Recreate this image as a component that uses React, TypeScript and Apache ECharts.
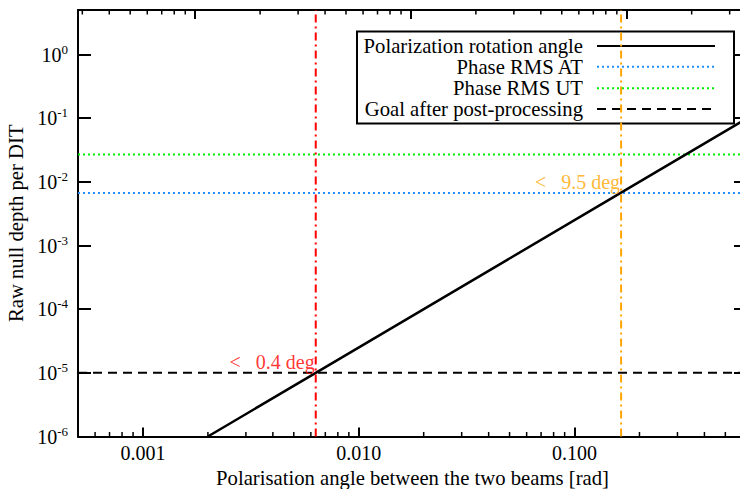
import React, { useEffect, useRef } from "react";
import * as echarts from "echarts";

// Axis ranges
const X_MIN = 0.0005; // rad
const X_MAX = 0.63; // rad
const Y_MIN = 1e-6;
const Y_MAX = 5;
const RAD2DEG = 180 / Math.PI;

// Polarization rotation angle curve (rad, null depth)
const rotationX = [0.002, 0.00632, 0.1644, 0.63];
const rotationY = [1e-6, 1e-5, 0.00676, 0.0994];

// Horizontal reference levels
const phaseAT = 0.0067;
const phaseUT = 0.0268;
const goalLevel = 1e-5;

// Vertical limits (rad) and their labels
const limitX = [0.00632, 0.1644];
const limitY = [1e-5, 0.0067];
const limitLabels = ["<   0.4 deg", "<   9.5 deg"];

// Legend
const legendNames = [
  "Polarization rotation angle",
  "Phase RMS AT",
  "Phase RMS UT",
  "Goal after post-processing",
];

// Minor tick values
const bottomMinor = [
  0.0006, 0.0007, 0.0008, 0.0009,
  0.002, 0.003, 0.004, 0.005, 0.006, 0.007, 0.008, 0.009,
  0.02, 0.03, 0.04, 0.05, 0.06, 0.07, 0.08, 0.09,
  0.2, 0.3, 0.4, 0.5, 0.6,
];
const topMinor = [
  0.03, 0.04, 0.05, 0.06, 0.07, 0.08, 0.09,
  0.2, 0.3, 0.4, 0.5, 0.6, 0.7, 0.8, 0.9,
  2, 3, 4, 5, 6, 7, 8, 9,
  20, 30,
];

const FONT = "Liberation Serif";
const RED = "#ff0000";
const ORANGE = "#ffa500";
const BLUE = "#1e90ff";
const GREEN = "#00ee00";

export default function App() {
  const ref = useRef<HTMLDivElement>(null);

  useEffect(() => {
    if (!ref.current) return;
    document.body.style.margin = "0";
    document.body.style.overflow = "hidden";
    const chart = echarts.init(ref.current, undefined, { renderer: "svg" });

    const axisLine = { show: true, lineStyle: { color: "#000", width: 2 } };

    const minorTickSeries = (data: number[], xIdx: number, yVal: number, dir: number) => ({
      type: "custom",
      xAxisIndex: xIdx,
      yAxisIndex: 0,
      clip: false,
      silent: true,
      z: 5,
      data: data.map((v) => [v, yVal]),
      renderItem: (params: any, api: any) => {
        const p = api.coord([api.value(0), api.value(1)]);
        return {
          type: "line",
          shape: { x1: p[0], y1: p[1], x2: p[0], y2: p[1] + dir * 4.5 },
          style: { stroke: "#000", lineWidth: 1.5 },
        };
      },
    });

    const hLine = (name: string, y: number, color: string, dash: number[]) => ({
      type: "line",
      name,
      data: [
        [X_MIN, y],
        [X_MAX, y],
      ],
      symbol: "none",
      silent: true,
      z: 2,
      lineStyle: { color, width: 2, type: dash },
    });
    const vLine = (x: number, color: string) => ({
      type: "line",
      data: [
        [x, Y_MIN],
        [x, Y_MAX],
      ],
      symbol: "none",
      silent: true,
      z: 4,
      lineStyle: { color, width: 2, type: [8, 4, 2, 4] },
    });

    const legendRows = [46, 66.7, 88.3, 109];
    const legendStyles = [
      { stroke: "#000", lineWidth: 2 },
      { stroke: BLUE, lineWidth: 2, lineDash: [2, 3] },
      { stroke: GREEN, lineWidth: 2, lineDash: [2, 3] },
      { stroke: "#000", lineWidth: 2, lineDash: [9, 6] },
    ];

    const graphic: any[] = [
      {
        type: "rect",
        z: 1,
        shape: { x: 357, y: 31.5, width: 377, height: 92 },
        style: { fill: "#fff", stroke: "#000", lineWidth: 2 },
      },
    ];
    legendNames.forEach((name, i) => {
      graphic.push({
        type: "text",
        z: 1,
        x: 583,
        y: legendRows[i],
        style: {
          text: name,
          fontSize: 20.7,
          fontFamily: FONT,
          fill: "#000",
          align: "right",
          verticalAlign: "middle",
        },
      });
      graphic.push({
        type: "line",
        z: 1,
        shape: { x1: 597, y1: legendRows[i], x2: 715, y2: legendRows[i] },
        style: legendStyles[i],
      });
    });

    const option: any = {
      animation: false,
      backgroundColor: "#fff",
      grid: {
        left: 78,
        top: 10,
        right: -7,
        bottom: 52.5,
        containLabel: false,
        outerBoundsMode: "none",
      },
      xAxis: [
        {
          type: "log",
          min: X_MIN,
          max: X_MAX,
          position: "bottom",
          axisLine,
          axisTick: { show: true, inside: true, length: 9, lineStyle: { color: "#000", width: 2 } },
          splitLine: { show: false },
          axisLabel: {
            show: true,
            margin: 6,
            showMinLabel: false,
            showMaxLabel: false,
            fontSize: 20,
            fontFamily: FONT,
            color: "#000",
            formatter: (v: number) => v.toFixed(3),
          },
          name: "Polarisation angle between the two beams [rad]",
          nameLocation: "middle",
          nameGap: 25,
          nameTextStyle: { fontSize: 20.7, fontFamily: FONT, color: "#000" },
        },
        {
          type: "log",
          min: X_MIN * RAD2DEG,
          max: X_MAX * RAD2DEG,
          position: "top",
          axisLine,
          axisTick: { show: true, inside: true, length: 9, lineStyle: { color: "#000", width: 2 } },
          splitLine: { show: false },
          axisLabel: { show: false },
        },
      ],
      yAxis: [
        {
          type: "log",
          min: Y_MIN,
          max: Y_MAX,
          position: "left",
          axisLine,
          axisTick: { show: true, inside: true, length: 13, lineStyle: { color: "#000", width: 2 } },
          splitLine: { show: false },
          axisLabel: {
            show: true,
            margin: 10,
            showMaxLabel: false,
            formatter: (v: number) => `{b|10}{s|${Math.round(Math.log10(v))}}`,
            rich: {
              b: { fontSize: 20, fontFamily: FONT, color: "#000", lineHeight: 24 },
              s: { fontSize: 13, fontFamily: FONT, color: "#000", verticalAlign: "top", lineHeight: 13 },
            },
          },
          name: "Raw null depth per DIT",
          nameLocation: "middle",
          nameGap: 50,
          nameTextStyle: { fontSize: 20.7, fontFamily: FONT, color: "#000" },
        },
        {
          type: "log",
          min: Y_MIN,
          max: Y_MAX,
          position: "right",
          axisLine,
          axisTick: { show: true, inside: true, length: 13, lineStyle: { color: "#000", width: 2 } },
          splitLine: { show: false },
          axisLabel: { show: false },
        },
      ],
      graphic,
      series: [
        hLine(legendNames[1], phaseAT, BLUE, [2, 3]),
        hLine(legendNames[2], phaseUT, GREEN, [2, 3]),
        hLine(legendNames[3], goalLevel, "#000", [9, 6]),
        {
          type: "line",
          name: legendNames[0],
          data: rotationX.map((x, i) => [x, rotationY[i]]),
          symbol: "none",
          z: 3,
          lineStyle: { color: "#000", width: 2.5 },
        },
        vLine(limitX[0], RED),
        vLine(limitX[1], ORANGE),
        {
          type: "scatter",
          symbolSize: 0,
          silent: true,
          z: 5,
          data: limitX.map((x, i) => ({
            value: [x, limitY[i]],
            label: {
              show: true,
              position: "left",
              distance: 1,
              offset: [0, -11],
              formatter: limitLabels[i],
              fontSize: 20,
              fontFamily: FONT,
              color: i === 0 ? RED : ORANGE,
            },
          })),
        },
        minorTickSeries(bottomMinor, 0, Y_MIN, -1),
        minorTickSeries(topMinor, 1, Y_MAX, 1),
      ],
    };

    chart.setOption(option);
    return () => chart.dispose();
  }, []);

  return (
    <div
      ref={ref}
      style={{ position: "fixed", left: 0, top: 0, width: 740, height: 489, background: "#fff" }}
    />
  );
}
